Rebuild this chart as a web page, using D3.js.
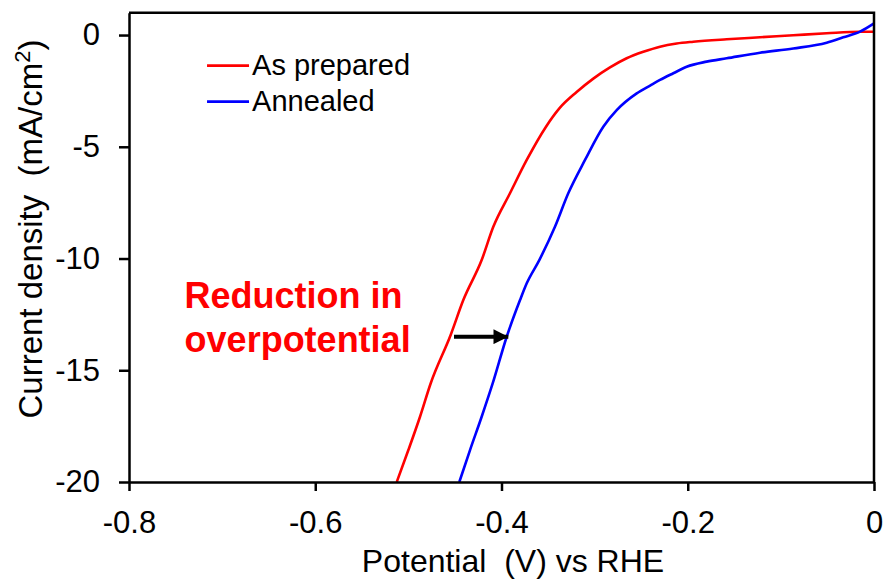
<!DOCTYPE html>
<html lang="en">

<head>
  <meta charset="utf-8">
  <title>LSV</title>
  <script src="https://d3js.org/d3.v7.min.js"></script>
  <style>
    body { margin: 0; background: #fff; }
    #chart text { font-family: "Liberation Sans", Arial, sans-serif; fill: #000; }
    .axis path, .axis line { stroke: #000; stroke-width: 2.5; }
    .axis text { font-size: 31px; }
  </style>
</head>

<body>
  <div id="chart"></div>

  <script type="text/javascript">
    "use strict"

    // potencial (V vs RHE) e densidade de corrente (mA/cm2)
    var asPreparedV = [-0.5125, -0.5000, -0.4875, -0.4760, -0.4546, -0.4410, -0.4213, -0.4088, -0.3909, -0.3729,
                       -0.3522, -0.3372, -0.3193, -0.3014, -0.2835, -0.2656, -0.2477, -0.2298, -0.2119, -0.1940,
                       -0.1582, -0.1224, -0.0867, -0.0508, -0.0150, 0];
    var asPreparedJ = [-20, -18.57, -17.08, -15.58, -13.42, -11.86, -10.07, -8.58, -7.08, -5.59,
                       -4.10, -3.25, -2.55, -1.95, -1.45, -1.04, -0.75, -0.52, -0.38, -0.30,
                       -0.19, -0.10, -0.01, 0.08, 0.15, 0.15];

    var annealedV = [-0.4453, -0.4338, -0.4213, -0.4094, -0.3944, -0.3801, -0.3729, -0.3594, -0.3426,
                     -0.3283, -0.3103, -0.2907, -0.2763, -0.2548, -0.2400, -0.2298, -0.2155, -0.2012, -0.1797,
                     -0.1582, -0.1224, -0.0867, -0.0508, -0.0330, -0.0150, 0];
    var annealedJ = [-20, -18.57, -17.08, -15.58, -13.50, -11.86, -11.11, -10.07, -8.58,
                     -7.08, -5.59, -4.10, -3.36, -2.61, -2.25, -2.01, -1.71, -1.42, -1.19,
                     -1.04, -0.79, -0.60, -0.34, -0.10, 0.15, 0.52];

    var seriesNames = ["As prepared", "Annealed"];
    var seriesColors = ["#ff0000", "#0000ff"];

    var xTicks = [-0.8, -0.6, -0.4, -0.2, 0];
    var xTickLabels = ["-0.8", "-0.6", "-0.4", "-0.2", "0"];
    var yTicks = [0, -5, -10, -15, -20];
    var yTickLabels = ["0", "-5", "-10", "-15", "-20"];

    // seta: de (V, J) ate (V, J)
    var arrowV = [-0.451, -0.3927];
    var arrowJ = [-13.5, -13.5];

    function draw() {
      var larguraSVG = 884, alturaSVG = 579;
      var margin = {top: 12.7, right: 10, bottom: 97, left: 129},
          larguraVis = larguraSVG - margin.left - margin.right,
          alturaVis = alturaSVG - margin.top - margin.bottom;

      var svg = d3.select("#chart")
                  .append("svg")
                    .attr("width", larguraSVG)
                    .attr("height", alturaSVG);

      var g = svg.append("g")
                 .attr("transform", "translate(" + margin.left + "," + margin.top + ")");

      var x = d3.scaleLinear().domain([-0.8, 0]).range([0, larguraVis]);
      var y = d3.scaleLinear().domain([-20, 1]).range([alturaVis, 0]);

      var series = [
        d3.zip(asPreparedV, asPreparedJ),
        d3.zip(annealedV, annealedJ)
      ];

      var line = d3.line()
                   .curve(d3.curveMonotoneX)
                   .x(d => x(d[0]))
                   .y(d => y(d[1]));

      g.selectAll(".curve")
        .data(series)
        .enter()
        .append("path")
          .attr("class", "curve")
          .attr("d", line)
          .attr("fill", "none")
          .attr("stroke", (d, i) => seriesColors[i])
          .attr("stroke-width", 2.6)
          .attr("stroke-linejoin", "round");

      // eixos
      g.append("g")
       .attr("class", "axis")
       .attr("transform", "translate(0," + alturaVis + ")")
       .call(d3.axisBottom(x)
               .tickValues(xTicks)
               .tickFormat((d, i) => xTickLabels[i])
               .tickSizeInner(9)
               .tickSizeOuter(0)
               .tickPadding(20));

      g.append("g")
       .attr("class", "axis")
       .call(d3.axisLeft(y)
               .tickValues(yTicks)
               .tickFormat((d, i) => yTickLabels[i])
               .tickSizeInner(10)
               .tickSizeOuter(0)
               .tickPadding(19));

      // moldura superior e direita
      g.append("path")
       .attr("d", "M0," + y(1) + "H" + x(0) + "V" + y(-20))
       .attr("fill", "none")
       .attr("stroke", "#000")
       .attr("stroke-width", 2.5);

      // titulos
      svg.append("text")
         .attr("x", 513)
         .attr("y", 572)
         .attr("text-anchor", "middle")
         .style("font-size", "32px")
         .style("white-space", "pre")
         .text("Potential  (V) vs RHE");

      var yTitle = svg.append("text")
         .attr("transform", "translate(42,229) rotate(-90)")
         .attr("text-anchor", "middle")
         .style("font-size", "33px")
         .style("white-space", "pre");
      yTitle.append("tspan").text("Current density  (mA/cm");
      yTitle.append("tspan").attr("dy", -12).style("font-size", "22px").text("2");
      yTitle.append("tspan").attr("dy", 12).text(")");

      // legenda
      var legend = g.selectAll(".legend")
                    .data(seriesNames)
                    .enter()
                    .append("g")
                      .attr("class", "legend")
                      .attr("transform", (d, i) => "translate(" + x(-0.7162) + "," + y(-1.37 - i * 1.61) + ")");

      legend.append("line")
            .attr("x1", 0).attr("x2", 42)
            .attr("stroke", (d, i) => seriesColors[i])
            .attr("stroke-width", 2.6);

      legend.append("text")
            .attr("x", 45)
            .attr("y", 9.5)
            .style("font-size", "29px")
            .text(d => d);

      // anotacao
      g.append("text")
       .attr("x", x(-0.7403))
       .attr("y", y(-12.22))
       .style("font-size", "36px")
       .style("font-weight", "bold")
       .style("fill", "#ff0000")
       .text("Reduction in");

      g.append("text")
       .attr("x", x(-0.7403))
       .attr("y", y(-14.17))
       .style("font-size", "36px")
       .style("font-weight", "bold")
       .style("fill", "#ff0000")
       .text("overpotential");

      svg.append("defs").append("marker")
         .attr("id", "head")
         .attr("viewBox", "0 0 10 10")
         .attr("refX", 10).attr("refY", 5)
         .attr("markerWidth", 4.2).attr("markerHeight", 3.7)
         .attr("orient", "auto")
         .attr("markerUnits", "strokeWidth")
         .append("path")
           .attr("d", "M0,0L10,5L0,10Z")
           .attr("fill", "#000");

      g.append("line")
       .attr("x1", x(arrowV[0])).attr("y1", y(arrowJ[0]))
       .attr("x2", x(arrowV[1])).attr("y2", y(arrowJ[1]))
       .attr("stroke", "#000")
       .attr("stroke-width", 4)
       .attr("marker-end", "url(#head)");
    }

    draw();
  </script>
</body>

</html>
